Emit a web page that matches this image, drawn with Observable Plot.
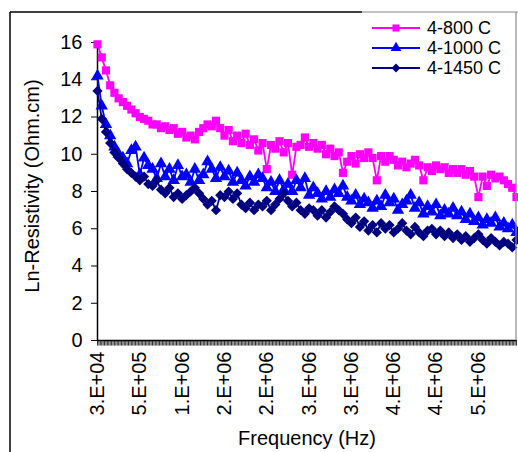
<!DOCTYPE html>
<html>
<head>
<meta charset="utf-8">
<script src="https://cdn.jsdelivr.net/npm/d3@7"></script>
<script src="https://cdn.jsdelivr.net/npm/@observablehq/plot@0.6"></script>
<style>
  html, body { margin: 0; padding: 0; background: white; }
  #chart { width: 518px; height: 452px; overflow: hidden; }
</style>
</head>
<body>
<div id="chart"></div>
<script>
// Frequency categories (Hz), evenly spaced measurement points
const freqStart = 30000;
const freqStep = 50000;
const freq = d3.range(100).map(i => freqStart + i * freqStep);

const seriesNames = ["4-800 C", "4-1000 C", "4-1450 C"];
const seriesColors = ["#FF00FF", "#0000FF", "#000080"];
const seriesSymbols = ["square", "triangle", "diamond2"];

const s800 = [15.9,15.2,14.5,13.7,13.3,13.0,12.8,12.6,12.4,12.2,
  12.0,11.9,11.8,11.6,11.6,11.4,11.5,11.3,11.4,11.1,
  11.2,10.9,11.0,10.8,11.2,11.4,11.6,11.5,11.8,11.4,
  11.0,11.3,10.7,11.0,10.6,11.1,10.5,10.8,10.2,10.6,
  9.2,10.5,10.3,10.7,10.1,10.6,8.9,10.4,10.5,10.9,
  10.4,10.6,10.3,10.5,10.0,10.3,9.9,10.1,9.0,9.6,
  9.9,9.5,10.0,9.8,10.1,9.8,8.6,9.9,9.6,9.9,
  9.7,9.4,9.6,9.3,9.5,9.7,9.4,8.6,9.3,9.1,
  9.4,9.2,9.3,9.0,9.2,9.0,9.2,8.9,9.1,8.8,
  7.7,8.8,8.3,8.9,8.7,8.8,8.6,8.4,8.2,7.7];

const s1000 = [14.2,12.6,11.6,11.0,10.4,10.0,9.8,9.5,10.2,10.4,
  8.9,9.8,9.4,9.2,8.7,9.5,8.8,9.2,8.6,9.4,
  8.8,8.9,8.5,9.2,8.6,8.9,9.6,9.2,8.7,9.3,
  8.8,9.1,8.5,9.0,8.6,8.3,8.8,8.5,8.9,8.7,
  8.2,8.5,8.0,8.6,8.1,8.4,8.0,8.6,8.2,8.7,
  7.8,8.2,7.9,7.6,8.0,7.7,8.1,7.9,8.3,7.7,
  7.5,7.8,7.3,7.6,7.4,7.1,7.5,7.2,7.8,7.4,
  7.6,7.0,7.3,7.5,7.8,7.1,7.4,6.8,7.2,6.9,
  7.3,6.7,7.0,6.8,7.1,6.7,6.9,6.5,6.8,6.4,
  6.6,6.2,6.5,6.3,6.6,6.1,6.3,6.0,6.2,5.8];

const s1450 = [13.4,11.9,11.2,10.6,10.1,9.8,9.5,9.2,9.0,8.8,
  8.6,8.8,8.4,8.3,8.6,8.1,7.9,8.2,7.7,7.9,
  7.6,7.8,8.0,8.2,7.9,7.6,7.3,7.5,7.0,7.8,
  7.7,8.0,7.6,7.9,7.3,7.1,7.4,7.0,7.3,7.2,
  7.5,7.0,7.3,7.6,7.9,7.5,7.2,7.4,7.0,6.8,
  7.1,7.0,6.7,7.0,6.6,6.9,7.2,7.0,6.8,6.5,
  6.3,6.6,6.1,6.4,5.9,6.2,5.8,6.3,6.0,6.2,
  5.8,6.0,6.3,5.9,5.7,6.1,5.8,5.6,5.9,6.0,
  5.7,5.9,5.6,5.8,5.5,5.7,5.4,5.6,5.3,5.5,
  5.7,5.4,5.2,5.5,5.3,5.1,5.3,5.2,5.0,5.4];

const seriesValues = [s800, s1000, s1450];

const xTickValues = [30000, 530000, 1030000, 1530000, 2030000, 2530000, 3030000, 3530000, 4030000, 4530000];
const xTickLabels = ["3.E+04","5.E+05","1.E+06","2.E+06","2.E+06","3.E+06","3.E+06","4.E+06","4.E+06","5.E+06"];
const yTicks = [0,2,4,6,8,10,12,14,16];

const FONT = "'Liberation Sans', Arial, sans-serif";
const xLabelMap = new Map(xTickValues.map((v, i) => [v, xTickLabels[i]]));
const minorTicks = d3.range(300).map(i => freqStart + i * freqStep / 3).filter(f => f <= freq[freq.length - 1]);

const data = [];
seriesNames.forEach((name, s) => {
  seriesValues[s].forEach((v, i) => data.push({series: name, f: freq[i], v}));
});

const marks = [
  Plot.ruleX(minorTicks, {x: d => d, y1: 0, y2: -0.3, stroke: "black", strokeWidth: 0.8}),
  Plot.ruleY([0], {stroke: "black", strokeWidth: 1.5}),
  Plot.ruleX([freqStart], {y1: 0, y2: 16, stroke: "black", strokeWidth: 1.5})
];
seriesNames.forEach((name, s) => {
  const d = data.filter(r => r.series === name);
  marks.push(Plot.line(d, {x: "f", y: "v", stroke: seriesColors[s], strokeWidth: 1.8}));
  marks.push(Plot.dot(d, {x: "f", y: "v", symbol: seriesSymbols[s], r: 4.6, fill: seriesColors[s], stroke: "none"}));
});

const chart = Plot.plot({
  width: 518,
  height: 452,
  marginLeft: 97,
  marginRight: 2,
  marginTop: 42,
  marginBottom: 112,
  style: {fontFamily: FONT, fontSize: "20px", color: "black", background: "white", overflow: "visible"},
  x: {domain: [freqStart, freq[freq.length - 1]], ticks: xTickValues, tickFormat: d => xLabelMap.get(d), tickRotate: -90, tickSize: 0, tickPadding: 11, label: null},
  y: {domain: [0, 16], ticks: yTicks, tickSize: 6, tickPadding: 9, label: null},
  marks
});

document.getElementById("chart").appendChild(chart);

// Frame, titles and legend
const svg = d3.select(chart);
const g = svg.append("g").attr("font-family", FONT);
g.append("line").attr("x1", 10).attr("y1", 12).attr("x2", 362).attr("y2", 12).attr("stroke", "black").attr("stroke-width", 1.5);
g.append("line").attr("x1", 362).attr("y1", 12).attr("x2", 518).attr("y2", 12).attr("stroke", "#888").attr("stroke-width", 1.2);
g.append("line").attr("x1", 10).attr("y1", 12).attr("x2", 10).attr("y2", 452).attr("stroke", "black").attr("stroke-width", 1.5);
g.append("line").attr("x1", 516).attr("y1", 12).attr("x2", 516).attr("y2", 340).attr("stroke", "#888").attr("stroke-width", 1.2);

g.append("text").attr("x", 307).attr("y", 445).attr("text-anchor", "middle")
  .attr("font-size", 20).text("Frequency (Hz)");
g.append("text").attr("transform", "translate(39,186) rotate(-90)").attr("text-anchor", "middle")
  .attr("font-size", 20).text("Ln-Resistivity (Ohm.cm)");

const symMap = {square: d3.symbolSquare, triangle: d3.symbolTriangle, diamond2: d3.symbolDiamond2};
const legendY = [28, 48, 68];
seriesNames.forEach((name, s) => {
  const y = legendY[s];
  g.append("line").attr("x1", 372).attr("x2", 420).attr("y1", y).attr("y2", y).attr("stroke", seriesColors[s]).attr("stroke-width", 1.8);
  g.append("path").attr("transform", `translate(396,${y})`).attr("d", d3.symbol(symMap[seriesSymbols[s]], Math.PI * 16)()).attr("fill", seriesColors[s]);
  g.append("text").attr("x", 427).attr("y", y + 6).attr("text-anchor", "start").attr("font-size", 18).text(name);
});
</script>
</body>
</html>
